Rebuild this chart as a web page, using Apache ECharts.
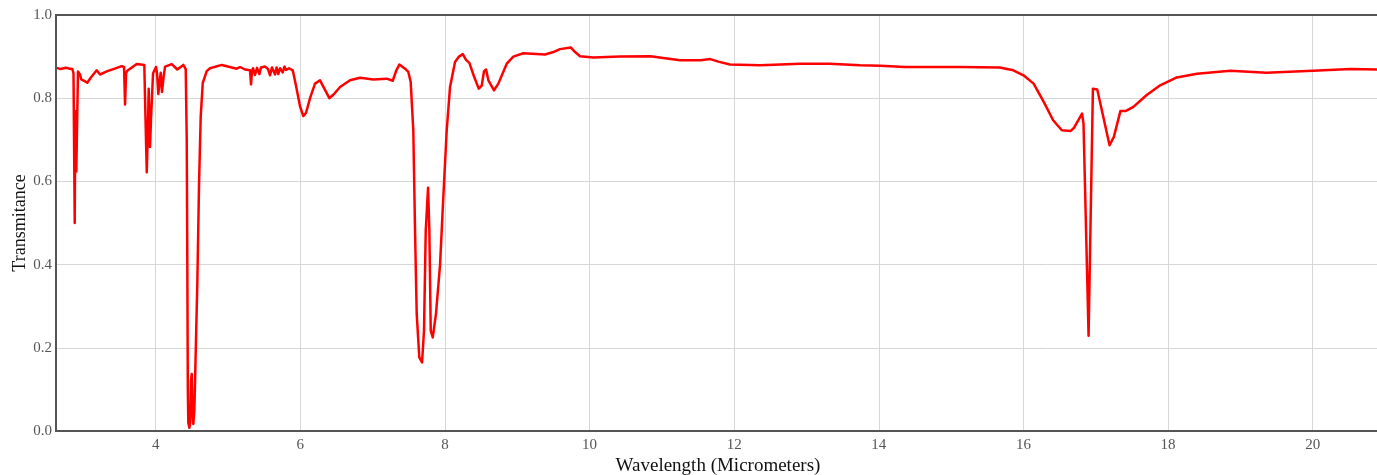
<!DOCTYPE html>
<html>
<head>
<meta charset="utf-8">
<script src="https://cdn.jsdelivr.net/npm/echarts@6/dist/echarts.min.js"></script>
<style>
html,body{margin:0;padding:0;background:#fff;}
#chart{width:1377px;height:475px;}
</style>
</head>
<body>
<div id="chart"></div>
<script>
const wavelength = [
  2.631, 2.686, 2.755, 2.815, 2.847, 2.863, 2.880, 2.888, 2.902, 2.925, 2.953, 2.971, 3.018, 3.054, 3.101, 3.184, 3.230, 3.331, 3.414,
  3.530, 3.562, 3.576, 3.590, 3.607, 3.737, 3.842, 3.859, 3.876, 3.889, 3.903, 3.921, 3.935, 3.963, 4.004, 4.018, 4.036, 4.053, 4.069,
  4.087, 4.108, 4.129, 4.221, 4.299, 4.382, 4.415, 4.429, 4.437, 4.444, 4.451, 4.465, 4.478, 4.488, 4.498, 4.506, 4.520, 4.534, 4.543,
  4.575, 4.599, 4.622, 4.650, 4.705, 4.751, 4.913, 5.120, 5.166, 5.235, 5.304, 5.318, 5.332, 5.346, 5.373, 5.401, 5.433, 5.456, 5.512,
  5.553, 5.581, 5.608, 5.650, 5.671, 5.695, 5.719, 5.756, 5.781, 5.802, 5.843, 5.895, 5.940, 5.996, 6.041, 6.079, 6.134, 6.203, 6.272,
  6.341, 6.401, 6.466, 6.549, 6.687, 6.826, 7.009, 7.195, 7.278, 7.323, 7.369, 7.448, 7.493, 7.526, 7.544, 7.562, 7.586, 7.609, 7.645,
  7.683, 7.710, 7.734, 7.766, 7.784, 7.803, 7.831, 7.876, 7.932, 7.977, 8.024, 8.070, 8.139, 8.194, 8.246, 8.291, 8.337, 8.402, 8.467,
  8.508, 8.540, 8.568, 8.600, 8.678, 8.738, 8.854, 8.945, 9.084, 9.384, 9.499, 9.591, 9.739, 9.799, 9.868, 10.052, 10.42, 10.84, 11.25,
  11.53, 11.67, 11.78, 11.94, 12.36, 12.91, 13.32, 13.74, 14.02, 14.36, 15.12, 15.67, 15.86, 16.00, 16.14, 16.28, 16.41, 16.53, 16.65,
  16.70, 16.81, 16.83, 16.90, 16.96, 17.02, 17.19, 17.25, 17.34, 17.41, 17.52, 17.70, 17.89, 18.12, 18.40, 18.86, 19.36, 20.00, 20.52, 20.93
];
const transmittance = [
  0.873, 0.870, 0.873, 0.871, 0.870, 0.860, 0.500, 0.769, 0.624, 0.864, 0.857, 0.845, 0.841, 0.837, 0.849, 0.867, 0.857, 0.865, 0.870,
  0.877, 0.875, 0.785, 0.860, 0.866, 0.882, 0.880, 0.750, 0.622, 0.700, 0.823, 0.683, 0.750, 0.860, 0.875, 0.860, 0.810, 0.840, 0.861,
  0.815, 0.850, 0.876, 0.882, 0.869, 0.880, 0.870, 0.700, 0.400, 0.100, 0.020, 0.008, 0.020, 0.120, 0.137, 0.060, 0.017, 0.050, 0.113,
  0.354, 0.594, 0.755, 0.836, 0.865, 0.872, 0.880, 0.871, 0.875, 0.869, 0.867, 0.833, 0.866, 0.872, 0.856, 0.873, 0.858, 0.874, 0.876,
  0.870, 0.855, 0.874, 0.857, 0.874, 0.858, 0.872, 0.862, 0.876, 0.868, 0.872, 0.867, 0.830, 0.780, 0.757, 0.765, 0.800, 0.835, 0.843,
  0.820, 0.800, 0.810, 0.827, 0.843, 0.849, 0.845, 0.847, 0.842, 0.865, 0.881, 0.871, 0.863, 0.839, 0.780, 0.723, 0.482, 0.282, 0.177,
  0.165, 0.241, 0.482, 0.585, 0.482, 0.241, 0.225, 0.282, 0.400, 0.562, 0.723, 0.827, 0.887, 0.900, 0.906, 0.892, 0.885, 0.852, 0.823,
  0.830, 0.865, 0.869, 0.843, 0.819, 0.835, 0.883, 0.900, 0.908, 0.905, 0.911, 0.918, 0.922, 0.911, 0.901, 0.898, 0.900, 0.901, 0.891,
  0.891, 0.894, 0.888, 0.881, 0.879, 0.883, 0.883, 0.879, 0.878, 0.875, 0.875, 0.874, 0.867, 0.855, 0.835, 0.791, 0.747, 0.723, 0.721,
  0.729, 0.763, 0.739, 0.229, 0.823, 0.821, 0.687, 0.707, 0.769, 0.769, 0.779, 0.807, 0.831, 0.850, 0.859, 0.866, 0.861, 0.866, 0.870, 0.869
];
const yTicks = [0, 0.2, 0.4, 0.6, 0.8, 1.0];

const seriesData = wavelength.map((w, i) => [w, transmittance[i]]);
const serif = '"Liberation Serif", "DejaVu Serif", serif';

const chart = echarts.init(document.getElementById('chart'), null, {renderer: 'canvas'});
chart.setOption({
  animation: false,
  grid: {
    left: 56, right: -3, top: 15, bottom: 44,
    outerBoundsMode: 'none',
    containLabel: false,
    show: true, z: 10, borderColor: '#555', borderWidth: 2, backgroundColor: 'transparent'
  },
  xAxis: {
    type: 'value',
    min: 2.621,
    max: 20.93,
    splitNumber: 9,
    name: 'Wavelength (Micrometers)',
    nameLocation: 'middle',
    nameGap: 26,
    nameMoveOverlap: false,
    nameTextStyle: {fontFamily: serif, fontSize: 19, color: '#111'},
    axisLine: {show: false},
    axisTick: {show: false},
    axisLabel: {
      fontFamily: serif, fontSize: 15, color: '#555', margin: 7,
      showMinLabel: false, showMaxLabel: false
    },
    splitLine: {show: true, lineStyle: {color: '#d6d6d6', width: 1}}
  },
  yAxis: {
    type: 'value',
    min: yTicks[0],
    max: yTicks[yTicks.length - 1],
    interval: 0.2,
    name: 'Transmitance',
    nameLocation: 'middle',
    nameGap: 27,
    nameMoveOverlap: false,
    nameTextStyle: {fontFamily: serif, fontSize: 18, color: '#111'},
    axisLine: {show: false},
    axisTick: {show: false},
    axisLabel: {
      fontFamily: serif, fontSize: 15, color: '#555', margin: 4,
      formatter: v => v.toFixed(1)
    },
    splitLine: {show: true, lineStyle: {color: '#d6d6d6', width: 1}}
  },
  series: [{
    type: 'line',
    data: seriesData,
    showSymbol: false,
    symbol: 'none',
    smooth: false,
    clip: true,
    lineStyle: {color: '#ff0000', width: 2.5, join: 'round'}
  }]
});
</script>
</body>
</html>
